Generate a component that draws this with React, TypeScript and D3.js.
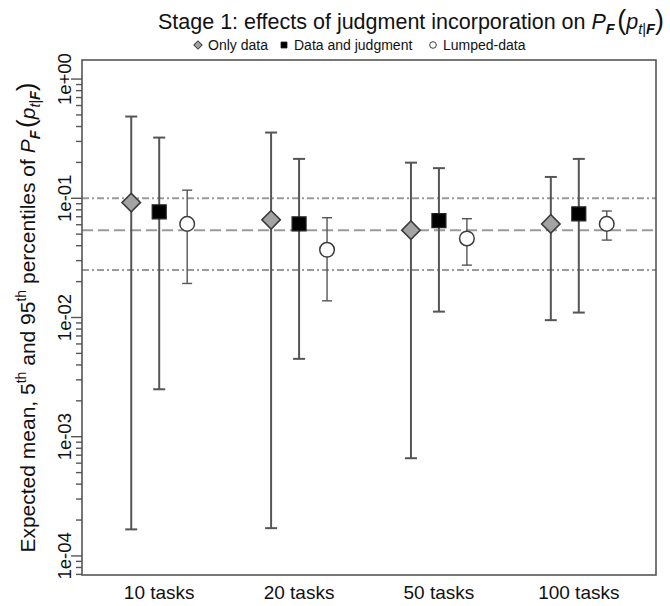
import React from 'react';
import * as d3 from 'd3';

// ---------- data ----------
const categories = ['10 tasks', '20 tasks', '50 tasks', '100 tasks'];
const seriesNames = ['Only data', 'Data and judgment', 'Lumped-data'];

const onlyDataMean = [0.092, 0.066, 0.054, 0.061];
const onlyDataP5 = [1.67e-4, 1.71e-4, 6.6e-4, 0.0095];
const onlyDataP95 = [0.485, 0.356, 0.199, 0.151];

const judgmentMean = [0.077, 0.061, 0.065, 0.074];
const judgmentP5 = [0.0025, 0.0045, 0.0112, 0.011];
const judgmentP95 = [0.323, 0.214, 0.179, 0.214];

const lumpedMean = [0.061, 0.037, 0.046, 0.061];
const lumpedP5 = [0.0193, 0.0138, 0.0275, 0.0446];
const lumpedP95 = [0.117, 0.0687, 0.0674, 0.0782];

const refLineValues = [0.1, 0.054, 0.025];
const refLineTypes = ['dotdash', 'dashed', 'dotdash'];

const yTickValues = [1e-4, 1e-3, 1e-2, 1e-1, 1];
const yTickLabels = ['1e-04', '1e-03', '1e-02', '1e-01', '1e+00'];

// ---------- layout ----------
const W = 670;
const H = 606;
const plot = { left: 82, right: 656, top: 60, bottom: 575 };
const FONT = "Arial, 'Liberation Sans', Helvetica, sans-serif";
const AXIS_COL = '#555555';

const x = d3.scaleLinear().domain([0.448, 4.552]).range([plot.left, plot.right]);
const y = d3
  .scaleLog()
  .domain([Math.pow(10, -4.16), Math.pow(10, 0.16)])
  .range([plot.bottom, plot.top]);

const offsets = [-0.2, 0, 0.2];

type Series = { name: string; mean: number[]; lo: number[]; hi: number[] };
const series: Series[] = [
  { name: seriesNames[0], mean: onlyDataMean, lo: onlyDataP5, hi: onlyDataP95 },
  { name: seriesNames[1], mean: judgmentMean, lo: judgmentP5, hi: judgmentP95 },
  { name: seriesNames[2], mean: lumpedMean, lo: lumpedP5, hi: lumpedP95 },
];

const diamondPath = d3.symbol().type(d3.symbolSquare).size(170)();
const squarePath = d3.symbol().type(d3.symbolSquare).size(196)();
const smallDiamond = d3.symbol().type(d3.symbolSquare).size(34)();
const smallSquare = d3.symbol().type(d3.symbolSquare).size(36)();

function Marker({ kind, cx, cy, small }: { kind: number; cx: number; cy: number; small?: boolean }) {
  if (kind === 0) {
    return (
      <path
        d={small ? smallDiamond : diamondPath}
        transform={`translate(${cx},${cy}) rotate(45)`}
        fill="#a3a3a3"
        stroke="#3c3c3c"
        strokeWidth={small ? 1 : 1.6}
      />
    );
  }
  if (kind === 1) {
    return (
      <path
        d={small ? smallSquare : squarePath}
        transform={`translate(${cx},${cy})`}
        fill="#000"
        stroke="#222"
        strokeWidth={small ? 0.8 : 1.2}
      />
    );
  }
  return (
    <circle cx={cx} cy={cy} r={small ? 3.3 : 7.3} fill="#fff" stroke="#3c3c3c" strokeWidth={small ? 1 : 1.5} />
  );
}

function MathPF({ size }: { size: number }) {
  const sub = size * 0.68;
  const par = size * 1.25;
  return (
    <>
      <tspan fontStyle="italic">P</tspan>
      <tspan fontSize={sub} fontWeight="bold" fontStyle="italic" baselineShift={-size * 0.22}>
        F
      </tspan>
      <tspan fontSize={par} dx={size * 0.12}>(</tspan>
      <tspan fontStyle="italic">p</tspan>
      <tspan fontSize={sub} baselineShift={-size * 0.22}>
        <tspan fontStyle="italic">t</tspan>
        <tspan>|</tspan>
        <tspan fontWeight="bold" fontStyle="italic">F</tspan>
      </tspan>
      <tspan fontSize={par}>)</tspan>
    </>
  );
}

export default function App() {
  const allTicks = y.ticks();
  const majorSet = new Set(yTickValues.map((v) => Math.round(Math.log10(v))));
  const minorTicks = allTicks.filter((t) => {
    const l = Math.log10(t);
    return Math.abs(l - Math.round(l)) > 1e-6 || !majorSet.has(Math.round(l));
  });

  const dashFor = (t: string) => (t === 'dashed' ? '11 5' : '7 3 2 3');

  return (
    <svg
      width={W}
      height={H}
      style={{ position: 'absolute', left: 0, top: 0, background: '#fff' }}
      fontFamily={FONT}
    >
      <rect x={0} y={0} width={W} height={H} fill="#fff" />

      {/* Title */}
      <text x={158} y={29} fontSize={21.5} fill="#111">
        Stage 1: effects of judgment incorporation on <MathPF size={21.5} />
      </text>

      {/* Legend */}
      <g fontSize={14} fill="#111">
        <Marker kind={0} cx={198} cy={45} small />
        <text x={208} y={50}>{seriesNames[0]}</text>
        <Marker kind={1} cx={284} cy={45} small />
        <text x={294} y={50}>{seriesNames[1]}</text>
        <Marker kind={2} cx={433} cy={45} small />
        <text x={443} y={50}>{seriesNames[2]}</text>
      </g>

      {/* Reference lines */}
      {refLineValues.map((v, i) => (
        <line
          key={`ref${i}`}
          x1={plot.left}
          x2={plot.right}
          y1={y(v)}
          y2={y(v)}
          stroke="#9a9a9a"
          strokeWidth={2}
          strokeDasharray={dashFor(refLineTypes[i])}
        />
      ))}

      {/* Error bars */}
      {series.map((s, si) =>
        categories.map((c, ci) => {
          const cx = x(ci + 1 + offsets[si]);
          const cap = si === 2 ? 5 : 6;
          const sw = si === 2 ? 1.4 : 2;
          return (
            <g key={`eb${si}-${ci}`} stroke="#555" strokeWidth={sw}>
              <line x1={cx} x2={cx} y1={y(s.lo[ci])} y2={y(s.hi[ci])} />
              <line x1={cx - cap} x2={cx + cap} y1={y(s.lo[ci])} y2={y(s.lo[ci])} />
              <line x1={cx - cap} x2={cx + cap} y1={y(s.hi[ci])} y2={y(s.hi[ci])} />
            </g>
          );
        })
      )}

      {/* Markers */}
      {series.map((s, si) =>
        categories.map((c, ci) => (
          <Marker key={`m${si}-${ci}`} kind={si} cx={x(ci + 1 + offsets[si])} cy={y(s.mean[ci])} />
        ))
      )}

      {/* Box */}
      <rect
        x={plot.left}
        y={plot.top}
        width={plot.right - plot.left}
        height={plot.bottom - plot.top}
        fill="none"
        stroke={AXIS_COL}
        strokeWidth={1.6}
      />

      {/* Y axis ticks */}
      <g stroke={AXIS_COL} strokeWidth={1.4}>
        {minorTicks.map((t, i) => (
          <line key={`mt${i}`} x1={plot.left - 6} x2={plot.left} y1={y(t)} y2={y(t)} />
        ))}
        {yTickValues.map((t, i) => (
          <line key={`Mt${i}`} x1={plot.left - 11} x2={plot.left} y1={y(t)} y2={y(t)} />
        ))}
      </g>
      <g fontSize={18.5} fill="#111" textAnchor="middle">
        {yTickValues.map((t, i) => (
          <text key={`yl${i}`} transform={`translate(${plot.left - 11},${y(t)}) rotate(-90)`} y={0}>
            {yTickLabels[i]}
          </text>
        ))}
      </g>

      {/* X labels */}
      <g fontSize={19} fill="#111" textAnchor="middle">
        {categories.map((c, i) => (
          <text key={`xl${i}`} x={x(i + 1)} y={599}>
            {c}
          </text>
        ))}
      </g>

      {/* Y title */}
      <text transform={`translate(35,${(plot.top + plot.bottom) / 2}) rotate(-90)`} textAnchor="middle" fontSize={21} fill="#111">
        Expected mean, 5<tspan fontSize={14} baselineShift={9}>th</tspan> and 95
        <tspan fontSize={14} baselineShift={9}>th</tspan> percentiles of <MathPF size={21} />
      </text>
    </svg>
  );
}
